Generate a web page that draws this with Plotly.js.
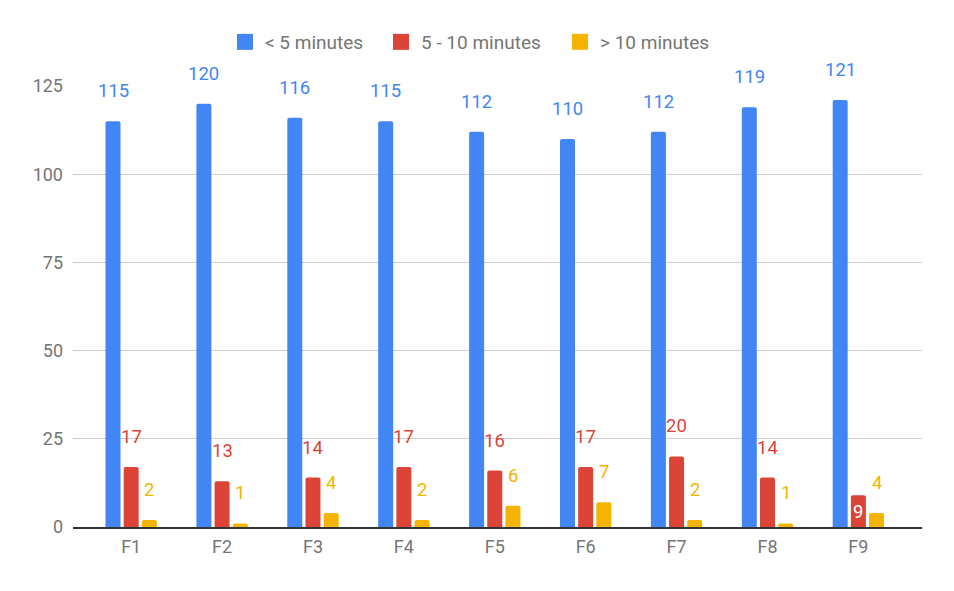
<!DOCTYPE html>
<html>
<head>
<meta charset="utf-8">
<script src="https://cdn.plot.ly/plotly-3.0.1.min.js"></script>
<style>
  html, body { margin: 0; padding: 0; background: #fff; }
  #chart { width: 954px; height: 591px; }
</style>
</head>
<body>
<div id="chart"></div>
<script>
const categories = ["F1", "F2", "F3", "F4", "F5", "F6", "F7", "F8", "F9"];
const under5 = [115, 120, 116, 115, 112, 110, 112, 119, 121];
const from5to10 = [17, 13, 14, 17, 16, 17, 20, 14, 9];
const over10 = [2, 1, 4, 2, 6, 7, 2, 1, 4];
const seriesNames = ["< 5 minutes", "5 - 10 minutes", "> 10 minutes"];
const colors = ["#4285F4", "#DB4437", "#F4B400"];

const series = [under5, from5to10, over10];
const legendIds = ["legend", "legend2", "legend3"];
const legendX = [225, 381, 560];  // left edge of each legend entry, px

const traces = series.map((vals, k) => ({
  x: categories,
  y: vals,
  name: seriesNames[k],
  type: "bar",
  showlegend: false,
  marker: { color: colors[k], cornerradius: 2 },
  hoverinfo: "y"
}));

// legend-only entries so the swatches can be bigger squares
series.forEach((vals, k) => {
  traces.push({
    x: [null],
    y: [null],
    name: seriesNames[k],
    type: "scatter",
    mode: "markers",
    legend: legendIds[k],
    marker: { symbol: "square", size: 18, color: colors[k] },
    hoverinfo: "skip"
  });
});

// value labels sit a bit above each bar, like the sheet export
const offsets = [-0.2, 0, 0.2];
const annotations = [];
series.forEach((vals, k) => {
  vals.forEach((v, i) => {
    const inside = (k === 1 && i === 8);
    annotations.push({
      x: i + offsets[k],
      y: v,
      xref: "x",
      yref: "y",
      text: String(v),
      showarrow: false,
      yanchor: "middle",
      yshift: inside ? -17 : 30,
      font: { family: "Roboto, sans-serif", size: 18.5, color: inside ? "#ffffff" : colors[k] }
    });
  });
});

const layout = {
  width: 954,
  height: 591,
  margin: { l: 73, r: 32, t: 86, b: 64 },
  paper_bgcolor: "#ffffff",
  plot_bgcolor: "#ffffff",
  font: { family: "Roboto, sans-serif", size: 18, color: "#757575" },
  barmode: "group",
  bargap: 0.4,
  bargroupgap: 0.175,
  showlegend: true,
  xaxis: {
    type: "category",
    range: [-0.64, 8.7],
    showgrid: false,
    showline: true,
    linecolor: "#333333",
    linewidth: 2,
    ticks: "",
    ticklabelstandoff: 2,
    tickfont: { size: 18, color: "#757575" },
    zeroline: false
  },
  yaxis: {
    range: [0, 125],
    tickvals: [0, 25, 50, 75, 100, 125],
    showgrid: true,
    gridcolor: "#cccccc",
    gridwidth: 1,
    zeroline: false,
    showline: false,
    ticks: "",
    ticklabelstandoff: 9,
    tickfont: { size: 18, color: "#757575" }
  },
  annotations: annotations
};

legendIds.forEach((id, k) => {
  layout[id] = {
    orientation: "h",
    xref: "container",
    yref: "container",
    x: legendX[k] / 954,
    xanchor: "left",
    y: 1 - 42 / 591,
    yanchor: "middle",
    font: { size: 19, color: "#757575" },
    itemsizing: "trace",
    itemclick: false
  };
});

Plotly.newPlot("chart", traces, layout, { displayModeBar: false, staticPlot: true });
</script>
</body>
</html>
